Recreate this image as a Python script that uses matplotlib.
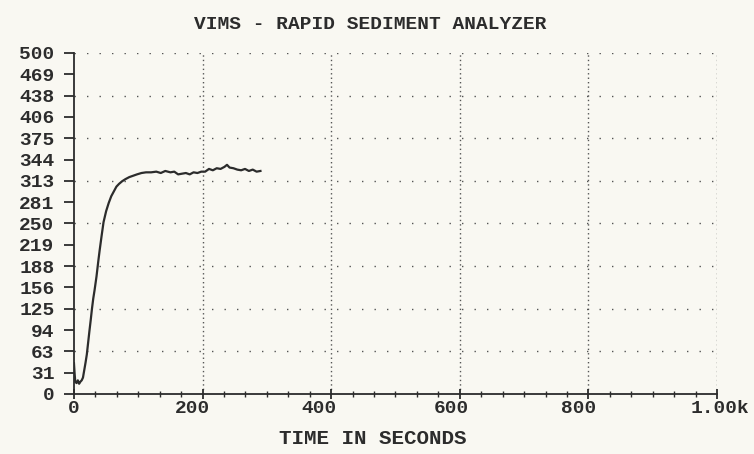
"""VIMS rapid sediment analyzer trace: reading vs time (old plotter style)."""
import matplotlib

matplotlib.use("Agg")
import matplotlib.pyplot as plt
import matplotlib.transforms as mtransforms
import numpy as np

# trace
time_s = [0, 1, 2, 4, 6, 8, 10, 12, 14, 16, 18, 20, 22, 24, 26, 28, 30, 32, 35, 38,
          40, 43, 46, 50, 54, 58, 62, 66, 70, 75, 80, 86, 92, 98, 105, 112, 120, 128,
          135, 142, 150, 156, 162, 168, 174, 180, 186, 192, 198, 204, 210, 216, 222,
          228, 234, 238, 242, 248, 254, 260, 266, 272, 278, 284, 290]
reading = [45, 30, 18, 16, 20, 15, 18, 20, 24, 35, 46, 58, 75, 92, 108, 125, 140, 152,
           172, 196, 211, 232, 252, 268, 280, 290, 297, 304, 308, 312, 315, 318, 320,
           322, 324, 325, 325, 326, 324, 327, 325, 326, 322, 323, 324, 322, 325, 324,
           326, 326, 330, 328, 331, 330, 333, 336, 332, 331, 329, 328, 330, 327, 329,
           326, 327]

y_ticks = [i * 500 / 16 for i in range(17)]
y_ticklabels = ["0", "31", "63", "94", "125", "156", "188", "219", "250", "281",
                "313", "344", "375", "406", "438", "469", "500"]
x_ticks = [0, 200, 400, 600, 800, 1000]
x_ticklabels = ["0", "200", "400", "600", "800", "1.00k"]

PAPER = "#f9f8f2"
INK = "#2c2c2c"
FONT = ["Liberation Mono", "DejaVu Sans Mono"]

fig = plt.figure(figsize=(7.54, 4.54), dpi=100, facecolor=PAPER)
ax = fig.add_axes([0.0981, 0.1322, 0.8528, 0.7511], facecolor=PAPER)

ax.plot(time_s, reading, color=INK, lw=1.6)

ax.set_xlim(0, 1000)
ax.set_ylim(0, 500)

# dotted grid like the plotter drew it
for gy in np.arange(62.5, 501, 62.5):
    ax.axhline(gy, color="#555555", lw=1.0, ls=(0, (1, 8)), zorder=0)
for gx in [200, 400, 600, 800, 1000]:
    ax.axvline(gx, color="#555555", lw=1.0, ls=(0, (1, 2.2)), zorder=0)

for side in ["top", "right"]:
    ax.spines[side].set_visible(False)
for side in ["left", "bottom"]:
    ax.spines[side].set_color(INK)
    ax.spines[side].set_linewidth(1.3)

ax.set_yticks(y_ticks)
ax.set_yticklabels(y_ticklabels, fontfamily=FONT, fontsize=14, fontweight="bold", color=INK)
ax.tick_params(axis="y", direction="out", length=7, width=1.3, color=INK, pad=7)

ax.set_xticks(x_ticks)
ax.set_xticklabels(x_ticklabels, fontfamily=FONT, fontsize=14, fontweight="bold", color=INK)
ax.set_xticks(np.arange(0, 1001, 200 / 6), minor=True)
ax.tick_params(axis="x", which="major", direction="inout", length=7, width=1.3, color=INK, pad=1)
ax.tick_params(axis="x", which="minor", direction="inout", length=4, width=1.0, color=INK)

# the plotter set the labels a little left of their ticks
x_shift = [0, -10, -12, -8, -10, 3]
for lab, dx in zip(ax.get_xticklabels(), x_shift):
    lab.set_transform(lab.get_transform()
                      + mtransforms.ScaledTranslation(dx / 100, 0, fig.dpi_scale_trans))

fig.text(0.491, 0.945, "VIMS - RAPID SEDIMENT ANALYZER", ha="center", va="center",
         fontfamily=FONT, fontsize=14, fontweight="bold", color=INK)
fig.text(0.495, 0.035, "TIME IN SECONDS", ha="center", va="center",
         fontfamily=FONT, fontsize=15, fontweight="bold", color=INK)

fig.savefig("out.png", dpi=100, facecolor=PAPER)
